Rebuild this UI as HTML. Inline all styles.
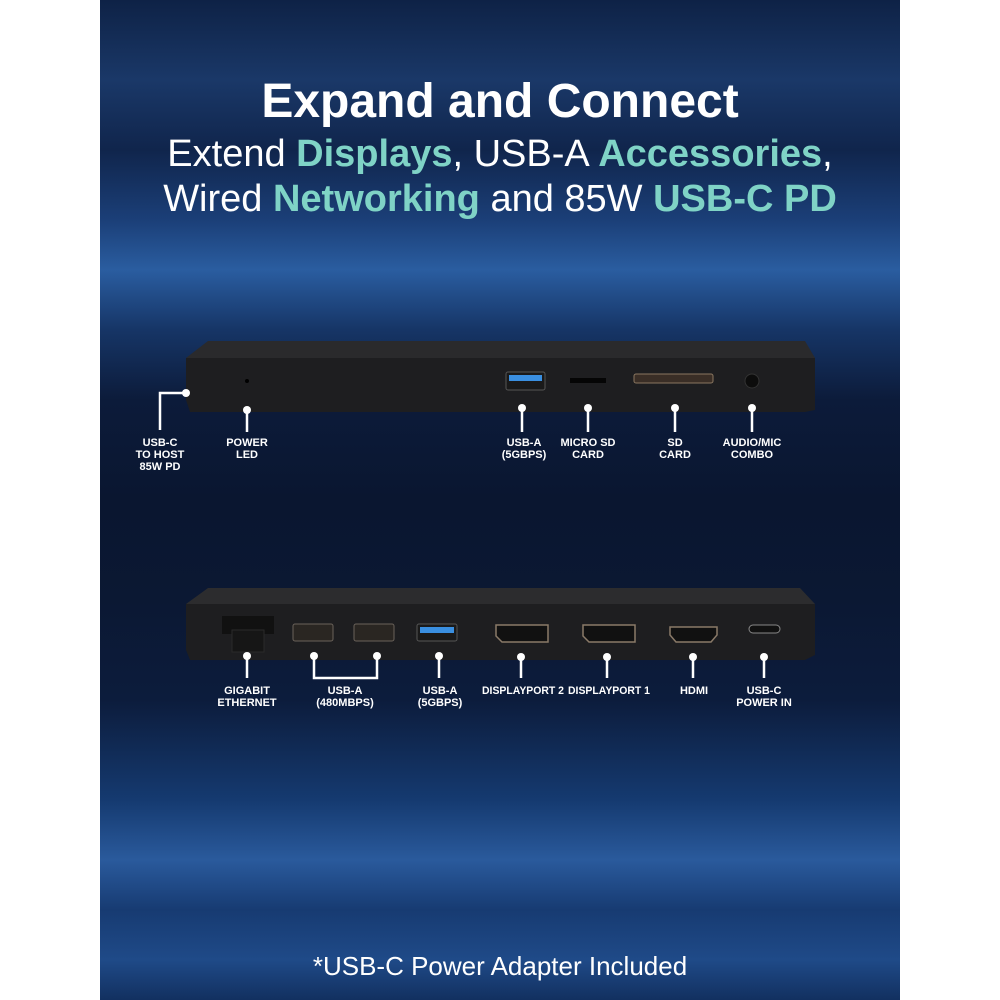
<!DOCTYPE html>
<html><head><meta charset="utf-8"><style>
html,body{margin:0;padding:0;background:#fff;}
body{width:1000px;height:1000px;position:relative;overflow:hidden;font-family:"Liberation Sans",sans-serif;}
#bg{position:absolute;left:100px;top:0;width:800px;height:1000px;
background:linear-gradient(180deg,#0e2246 0%,#1a3868 8%,#10254c 15%,#1b3f78 22%,#2a5da0 27%,#163566 33%,#0c1b3a 40%,#0a1630 50%,#0b1833 60%,#0c1c3c 70%,#153a70 80%,#2a5a9c 86%,#173b72 91%,#1f4a88 96%,#123060 100%);}
svg{position:absolute;left:0;top:0;}
.t{position:absolute;left:100px;width:800px;text-align:center;color:#fff;white-space:nowrap;}
.c{color:#7fd3c6;font-weight:bold;}
</style></head><body>
<div id="bg"></div>
<div class="t" style="top:74px;font-size:48px;font-weight:bold;">Expand and Connect</div>
<div class="t" style="top:133px;font-size:38px;">Extend <span class="c">Displays</span>, USB-A <span class="c">Accessories</span>,</div>
<div class="t" style="top:178px;font-size:38px;">Wired <span class="c">Networking</span> and 85W <span class="c">USB-C PD</span></div>
<div class="t" style="top:951px;font-size:26px;">*USB-C Power Adapter Included</div>
<svg width="1000" height="1000" font-family="Liberation Sans,sans-serif" font-weight="bold" font-size="11" fill="#fff" text-anchor="middle">
<!-- device 1 -->
<polygon points="208,341 805,341 815,358 186,358" fill="#2a2a2c"/>
<polygon points="186,358 815,358 815,410 805,412 190,412 186,400" fill="#1e1e20"/>
<circle cx="247" cy="381" r="2" fill="#000"/>
<rect x="506" y="372" width="39" height="18" rx="2" fill="#1a1a1a" stroke="#555"/>
<rect x="509" y="375" width="33" height="6" fill="#3a8fe0"/>
<rect x="570" y="378" width="36" height="5" fill="#050505"/>
<rect x="634" y="374" width="79" height="9" rx="2" fill="#3a2e26" stroke="#8a7760"/>
<circle cx="752" cy="381" r="7" fill="#0c0c0c" stroke="#333"/>
<g stroke="#fff" stroke-width="2.5" fill="none">
<polyline points="186,393 160,393 160,430"/>
<line x1="247" y1="410" x2="247" y2="432"/>
<line x1="522" y1="408" x2="522" y2="432"/>
<line x1="588" y1="408" x2="588" y2="432"/>
<line x1="675" y1="408" x2="675" y2="432"/>
<line x1="752" y1="408" x2="752" y2="432"/>
</g>
<g fill="#fff">
<circle cx="186" cy="393" r="4"/><circle cx="247" cy="410" r="4"/><circle cx="522" cy="408" r="4"/><circle cx="588" cy="408" r="4"/><circle cx="675" cy="408" r="4"/><circle cx="752" cy="408" r="4"/>
</g>
<text x="160" y="446">USB-C</text><text x="160" y="458">TO HOST</text><text x="160" y="470">85W PD</text>
<text x="247" y="446">POWER</text><text x="247" y="458">LED</text>
<text x="524" y="446">USB-A</text><text x="524" y="458">(5GBPS)</text>
<text x="588" y="446">MICRO SD</text><text x="588" y="458">CARD</text>
<text x="675" y="446">SD</text><text x="675" y="458">CARD</text>
<text x="752" y="446">AUDIO/MIC</text><text x="752" y="458">COMBO</text>
<!-- device 2 -->
<polygon points="208,588 800,588 815,604 186,604" fill="#2c2c2e"/>
<polygon points="186,604 815,604 815,655 805,660 190,660 186,650" fill="#1e1e20"/>
<rect x="222" y="616" width="52" height="18" fill="#111"/>
<rect x="232" y="630" width="32" height="22" fill="#161616" stroke="#2a2a2a"/>
<rect x="293" y="624" width="40" height="17" rx="2" fill="#2a2622" stroke="#6a625a"/>
<rect x="354" y="624" width="40" height="17" rx="2" fill="#2a2622" stroke="#6a625a"/>
<rect x="417" y="624" width="40" height="17" rx="2" fill="#1a1a1a" stroke="#555"/>
<rect x="420" y="627" width="34" height="6" fill="#3a8fe0"/>
<polygon points="496,625 548,625 548,642 502,642 496,636" fill="#111" stroke="#8a7a68" stroke-width="1.5"/>
<polygon points="583,625 635,625 635,642 589,642 583,636" fill="#111" stroke="#8a7a68" stroke-width="1.5"/>
<polygon points="670,627 717,627 717,635 711,642 676,642 670,635" fill="#111" stroke="#8a7a68" stroke-width="1.5"/>
<rect x="749" y="625" width="31" height="8" rx="4" fill="#111" stroke="#888"/>
<g stroke="#fff" stroke-width="2.5" fill="none">
<line x1="247" y1="656" x2="247" y2="678"/>
<polyline points="314,656 314,678 377,678 377,656"/>
<line x1="439" y1="656" x2="439" y2="678"/>
<line x1="521" y1="657" x2="521" y2="678"/>
<line x1="607" y1="657" x2="607" y2="678"/>
<line x1="693" y1="657" x2="693" y2="678"/>
<line x1="764" y1="657" x2="764" y2="678"/>
</g>
<g fill="#fff">
<circle cx="247" cy="656" r="4"/><circle cx="314" cy="656" r="4"/><circle cx="377" cy="656" r="4"/><circle cx="439" cy="656" r="4"/><circle cx="521" cy="657" r="4"/><circle cx="607" cy="657" r="4"/><circle cx="693" cy="657" r="4"/><circle cx="764" cy="657" r="4"/>
</g>
<text x="247" y="694">GIGABIT</text><text x="247" y="706">ETHERNET</text>
<text x="345" y="694">USB-A</text><text x="345" y="706">(480MBPS)</text>
<text x="440" y="694">USB-A</text><text x="440" y="706">(5GBPS)</text>
<text x="523" y="694" textLength="82" lengthAdjust="spacingAndGlyphs">DISPLAYPORT 2</text>
<text x="609" y="694" textLength="82" lengthAdjust="spacingAndGlyphs">DISPLAYPORT 1</text>
<text x="694" y="694">HDMI</text>
<text x="764" y="694">USB-C</text><text x="764" y="706">POWER IN</text>
</svg>
</body></html>
